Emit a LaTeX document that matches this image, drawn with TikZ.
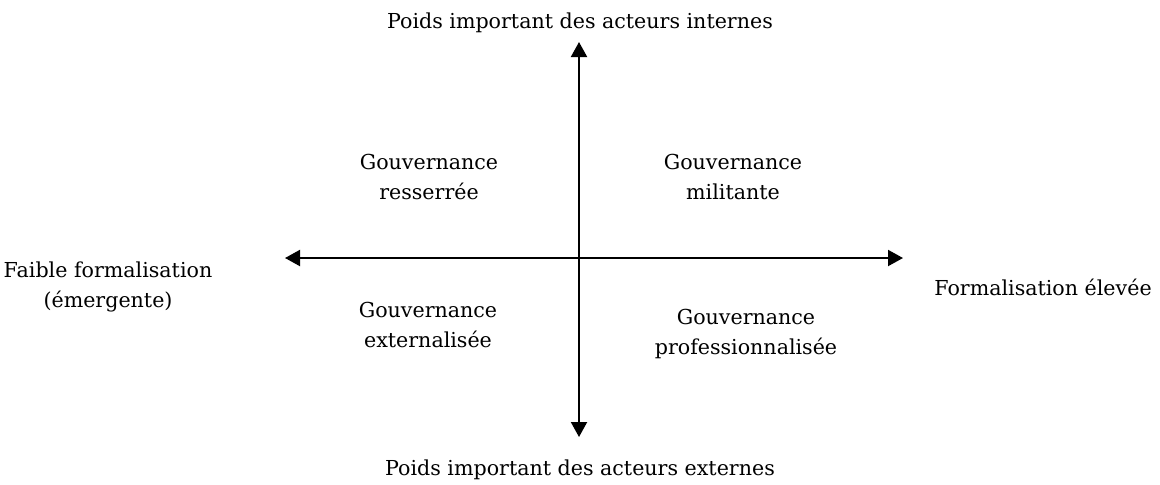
\documentclass[tikz,border=0pt]{standalone}
\usepackage{fontspec}
\setmainfont{DejaVu Serif}
\usepackage{tikz}
\usetikzlibrary{
    arrows.meta,
    positioning
}
\tikzstyle{axis} = [
    line width=1pt,
    {Triangle[length=7.5pt,width=8pt]}-{Triangle[length=7.5pt,width=8pt]}
]
\tikzstyle{label} = [
    align=center,
    font=\fontsize{10.3}{14.8}\selectfont,
    inner sep=0pt
]

\begin{document}
\begin{tikzpicture}[x=0.5pt,y=-0.5pt]
\useasboundingbox (0,0) rectangle (1160,484);
% axis ends
\coordinate (north) at (579,42);
\coordinate (south) at (579,437);
\coordinate (west)  at (285,258);
\coordinate (east)  at (903,258);
\draw[axis] (north) -- (south);
\draw[axis] (west) -- (east);
% axis labels
\node[label] (internes) at (580,23)  {Poids important des acteurs internes};
\node[label] (externes) at (580,470) {Poids important des acteurs externes};
\node[label] (faible)   at (108,287) {Faible formalisation\\(émergente)};
\node[label] (elevee)   at (1043,287) {Formalisation élevée};
% quadrants
\node[label] (resserree)  at (429,177) {Gouvernance\\resserrée};
\node[label] (militante)  at (733,177) {Gouvernance\\militante};
\node[label] (externe)    at (428,325) {Gouvernance\\externalisée};
\node[label] (pro)        at (746,334) {Gouvernance\\professionnalisée};
\end{tikzpicture}
\end{document}
